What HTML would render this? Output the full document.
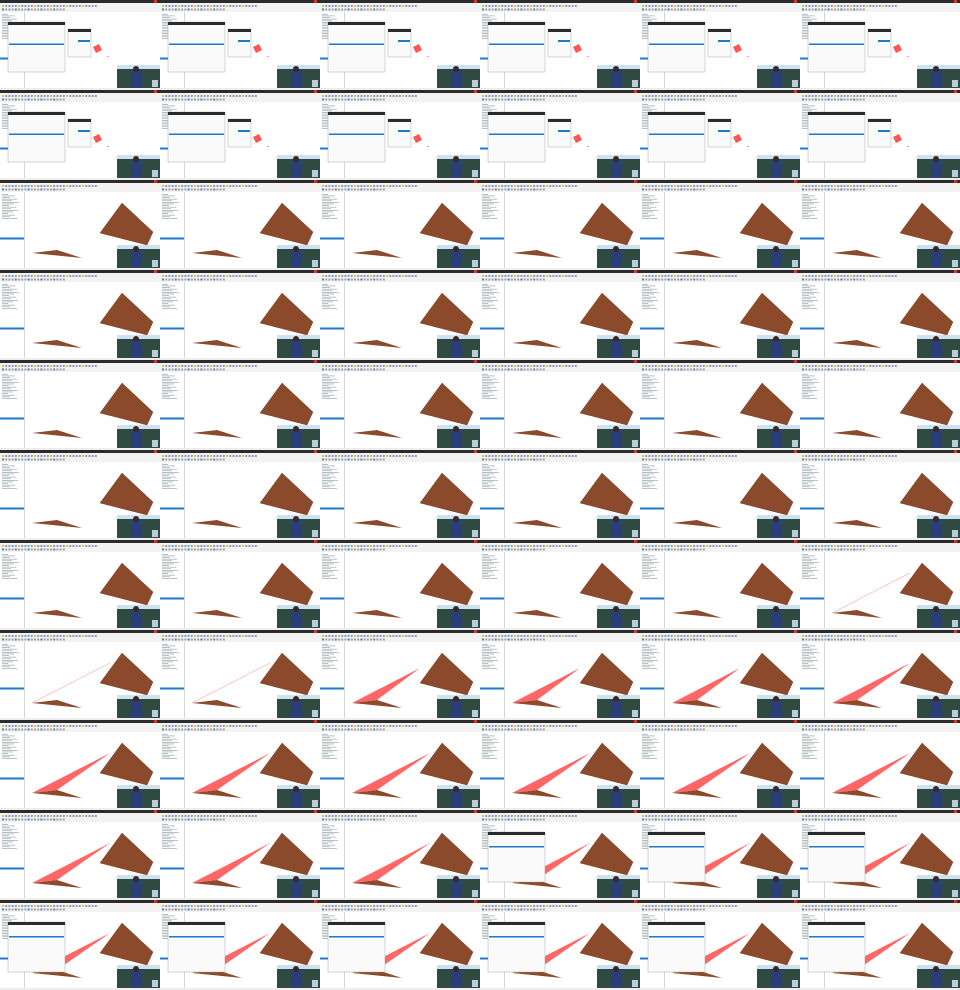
<!DOCTYPE html>
<html><head><meta charset="utf-8"><style>
body{margin:0;width:960px;height:990px;background:#fff;overflow:hidden;font-family:"Liberation Sans",sans-serif}
#sheet{position:relative;width:960px;height:990px}
</style></head><body>
<div id="sheet"></div>
<script>
// frame states per row (6 columns each): n=plain, d=dialogs, l=thin red line, t=partial triangle, f=full triangle, o=overlay dialog
const rows = [
 "dddddd","dddddd","nnnnnn","nnnnnn","nnnnnn","nnnnnn","nnnnnl",
 "lltttf","ffffff","fffooo","oooooo"
];
const NS="http://www.w3.org/2000/svg";
const sheet=document.getElementById('sheet');
function frameSVG(s){
 let g='';
 g+='<rect width="160" height="90" fill="#fff"/>';
 g+='<rect width="160" height="3" fill="#2b2b2b"/><rect x="154" y="0" width="3" height="3" fill="#d33"/>';
 g+='<rect y="3" width="160" height="9" fill="#f2f2f2"/>';
 for(let i=0;i<30;i++){g+='<rect x="'+(2+i*3.2)+'" y="5" width="2" height="2" fill="'+(i%5==0?'#e8c040':'#8aa0c0')+'"/>';}
 for(let i=0;i<20;i++){g+='<rect x="'+(2+i*3.2)+'" y="8.5" width="2" height="2" fill="'+(i%4==0?'#4a80c8':'#a0a0a0')+'"/>';}
 g+='<rect x="24" y="12" width="0.6" height="76" fill="#bbb"/>';
 for(let i=0;i<16;i++){g+='<rect x="2" y="'+(14+i*1.6)+'" width="'+(6+(i*7)%12)+'" height="0.7" fill="#9aa"/>';}
 g+='<rect x="0" y="57.5" width="24" height="2" fill="#1f78c8"/>';
 if(s!='d'){
  g+='<polygon points="122,23 153,52 147,65 100,53" fill="#8b4a2b" stroke="#6b3418" stroke-width="0.4"/>';
  g+='<polygon points="32,73 57,70 82,78" fill="#8b4a2b"/>';
 }
 if(s=='l')g+='<line x1="32" y1="73" x2="110" y2="33" stroke="#f88" stroke-width="0.5"/>';
 if(s=='t')g+='<polygon points="32,73 100,38 57,70" fill="#f66"/>';
 if(s=='f'||s=='o')g+='<polygon points="32,73 110,33 57,70" fill="#f66"/>';
 if(s=='d'){
  g+='<rect x="8" y="22" width="57" height="50" fill="#fafafa" stroke="#999" stroke-width="0.4"/><rect x="8" y="22" width="57" height="3" fill="#2b2b2b"/>';
  g+='<rect x="9" y="43.5" width="55" height="1.5" fill="#1f78c8"/>';
  g+='<rect x="68" y="29" width="23" height="28" fill="#fafafa" stroke="#999" stroke-width="0.4"/><rect x="68" y="29" width="23" height="3" fill="#2b2b2b"/><rect x="78" y="40" width="12" height="2" fill="#1f78c8"/>';
  g+='<polygon points="93,47 99,44 102,50 96,53" fill="#f55"/>';
  g+='<rect x="107" y="56" width="2" height="1" fill="#f99"/>';
 }
 if(s=='o'){
  g+='<rect x="8" y="22" width="57" height="50" fill="#fafafa" stroke="#999" stroke-width="0.4"/><rect x="8" y="22" width="57" height="3" fill="#2b2b2b"/>';
  g+='<rect x="9" y="36" width="55" height="1.5" fill="#1f78c8"/>';
 }
 g+='<rect x="117" y="65" width="43" height="23" fill="#2f4a40"/><rect x="117" y="65" width="43" height="4" fill="#cfe0ee"/>';
 g+='<rect x="131" y="69" width="10" height="19" fill="#2a3f7a"/><circle cx="136" cy="69" r="3" fill="#3a2a22"/><rect x="152" y="80" width="6" height="7" fill="#bcd"/>';
 g+='<rect y="88" width="160" height="2" fill="#eee"/>';
 return g;
}
rows.forEach((r,ri)=>{
 [...r].forEach((s,ci)=>{
  const svg=document.createElementNS(NS,'svg');
  svg.setAttribute('width','160');svg.setAttribute('height','90');
  svg.setAttribute('viewBox','0 0 160 90');
  svg.style.position='absolute';svg.style.left=(ci*160)+'px';svg.style.top=(ri*90)+'px';
  
  
  svg.innerHTML=frameSVG(s);
  sheet.appendChild(svg);
 });
});
</script>
</body></html>
